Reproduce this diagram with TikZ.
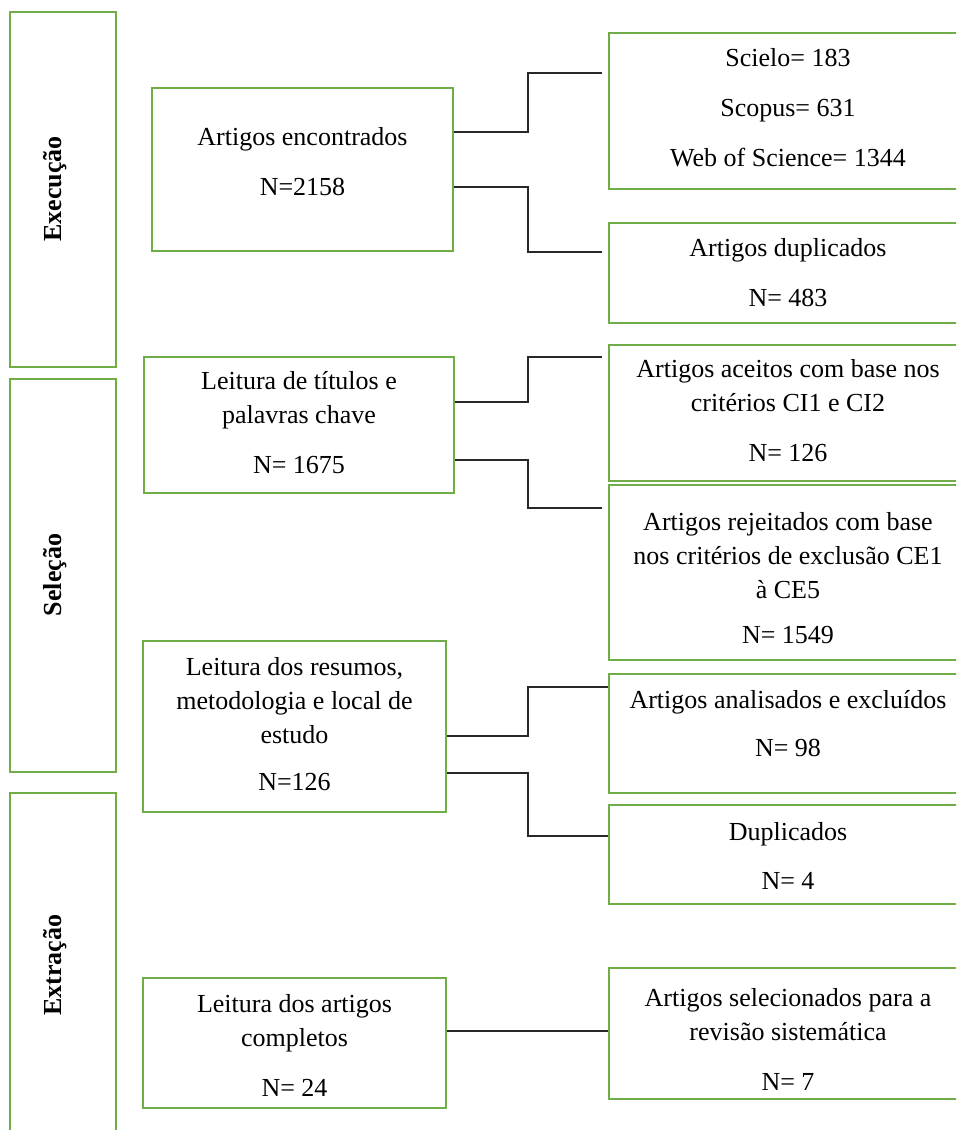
\documentclass[tikz,border=0pt]{standalone}
\usepackage{fontspec}
\setmainfont{Liberation Serif}
\definecolor{boxgreen}{RGB}{112,173,71}
\definecolor{connc}{RGB}{40,40,40}
\tikzset{
  box/.style={draw=boxgreen, line width=1.5pt, rectangle, inner sep=0pt, fill=white},
  txt/.style={align=center, inner sep=0pt, font=\fontsize{26}{34}\selectfont},
  phase/.style={rotate=90, inner sep=0pt, font=\fontsize{26}{30}\selectfont\bfseries},
  conn/.style={draw=connc, line width=1.4pt},
}
\begin{document}
\begin{tikzpicture}[x=1pt, y=-1pt]
\useasboundingbox (0,0) rectangle (956,1130);
\fill[white] (0,0) rectangle (956,1130);
\clip (0,0) rectangle (956,1130);

% phase boxes
\node[box, minimum width=106pt, minimum height=355pt] (ex) at (63,189.5) {};
\node[box, minimum width=106pt, minimum height=393pt] (sel) at (63,575.5) {};
\node[box, minimum width=106pt, minimum height=367pt] (extr) at (63,976.5) {};
\node[phase] (exl) at (55,189) {Execução};
\node[phase] (sell) at (55,575) {Seleção};
\node[phase] (extrl) at (55,965) {Extração};

% main boxes
\node[box, minimum width=301pt, minimum height=163pt] (enc) at (302.5,169.5) {};
\node[box, minimum width=310pt, minimum height=136pt] (tit) at (299,425) {};
\node[box, minimum width=303pt, minimum height=171pt] (res) at (294.5,726.5) {};
\node[box, minimum width=303pt, minimum height=130pt] (comp) at (294.5,1043) {};

% right boxes
\node[box, minimum width=358pt, minimum height=156pt] (bases) at (788,111) {};
\node[box, minimum width=358pt, minimum height=100pt] (dup) at (788,273) {};
\node[box, minimum width=358pt, minimum height=136pt] (ace) at (788,413) {};
\node[box, minimum width=358pt, minimum height=175pt] (rej) at (788,572.5) {};
\node[box, minimum width=358pt, minimum height=119pt] (ana) at (788,733.5) {};
\node[box, minimum width=358pt, minimum height=99pt] (dup2) at (788,854.5) {};
\node[box, minimum width=358pt, minimum height=131pt] (selec) at (788,1033.5) {};

% texts
\node[txt] (enct) at (302.5,162) {Artigos encontrados\\[16pt]N=2158};
\node[txt] (titt) at (299,423) {Leitura de títulos e\\palavras chave\\[16pt]N= 1675};
\node[txt] (rest) at (294.5,724) {Leitura dos resumos,\\metodologia e local de\\estudo\\[13pt]N=126};
\node[txt] (compt) at (294.5,1045.5) {Leitura dos artigos\\completos\\[16pt]N= 24};
\node[txt] (basest) at (788,108) {Scielo= 183\\[16pt]Scopus= 631\\[16pt]Web of Science= 1344};
\node[txt] (dupt) at (788,273) {Artigos duplicados\\[16pt]N= 483};
\node[txt] (acet) at (788,411) {Artigos aceitos com base nos\\critérios CI1 e CI2\\[16pt]N= 126};
\node[txt] (rejt) at (788,578.5) {Artigos rejeitados com base\\nos critérios de exclusão CE1\\à CE5\\[11pt]N= 1549};
\node[txt] (anat) at (788,724) {Artigos analisados e excluídos\\[14pt]N= 98};
\node[txt] (dup2t) at (788,855.5) {Duplicados\\[15pt]N= 4};
\node[txt] (select) at (788,1039.5) {Artigos selecionados para a\\revisão sistemática\\[16pt]N= 7};

% junction coordinates
\coordinate (a1) at (528,132);
\coordinate (a2) at (528,73);
\coordinate (b1) at (528,187);
\coordinate (b2) at (528,252);
\coordinate (c1) at (528,402);
\coordinate (c2) at (528,357);
\coordinate (d1) at (528,460);
\coordinate (d2) at (528,508);
\coordinate (e1) at (528,736);
\coordinate (e2) at (528,687);
\coordinate (f1) at (528,773);
\coordinate (f2) at (528,836);
\coordinate (g1) at (528,1031);

% connectors
\draw[conn, shorten >=6pt] (enc.east |- a1) -- (a1) |- (bases.west |- a2);
\draw[conn, shorten >=6pt] (enc.east |- b1) -- (b1) |- (dup.west |- b2);
\draw[conn, shorten >=6pt] (tit.east |- c1) -- (c1) |- (ace.west |- c2);
\draw[conn, shorten >=6pt] (tit.east |- d1) -- (d1) |- (rej.west |- d2);
\draw[conn] (res.east |- e1) -- (e1) |- (ana.west |- e2);
\draw[conn] (res.east |- f1) -- (f1) |- (dup2.west |- f2);
\draw[conn] (comp.east |- g1) -- (selec.west |- g1);
\end{tikzpicture}
\end{document}
